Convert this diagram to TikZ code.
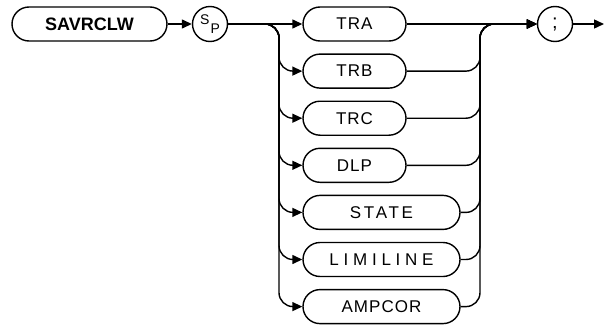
\documentclass[tikz,border=0pt]{standalone}
\usepackage{fontspec}
\setmainfont{Liberation Sans}
\usetikzlibrary{arrows.meta}
\begin{document}
\begin{tikzpicture}[x=1pt,y=-1pt,line width=1.4pt,
  kw/.style={draw, rounded corners=17pt, minimum height=34pt, inner sep=0pt,
    font=\fontsize{17}{17}\selectfont\addfontfeatures{LetterSpace=6}},
  shortbox/.style={kw, minimum width=103pt},
  longbox/.style={kw, minimum width=157pt},
  circ/.style={draw, circle, minimum size=35pt, inner sep=0pt},
  arr/.style={-{Triangle[length=10pt,width=9pt]}},
  conn/.style={rounded corners=14pt}]
\useasboundingbox (0,0) rectangle (605,324);
\node[kw, minimum width=155pt, font=\fontsize{18}{18}\selectfont\bfseries] (savr) at (89.5,24) {SAVRCLW};
\node[circ, font=\fontsize{14}{14}\selectfont] (sp) at (210,24) {\raisebox{4pt}{S}\hspace{1pt}\raisebox{-5pt}{P}};
\node[shortbox] (tra) at (354.5,24) {TRA};
\node[shortbox] (trb) at (354.5,71.1) {TRB};
\node[shortbox] (trc) at (354.5,118.2) {TRC};
\node[shortbox] (dlp) at (354.5,165.3) {DLP};
\node[longbox] (state) at (381.5,212.4) {\addfontfeatures{LetterSpace=16}STATE};
\node[longbox] (limi) at (381.5,259.5) {\addfontfeatures{LetterSpace=28}LIMILINE};
\node[longbox] (amp) at (381.5,306.6) {AMPCOR};
\node[circ, font=\fontsize{20}{20}\selectfont] (semi) at (555,24) {;};
\coordinate (lb) at (279,24);
\coordinate (rb) at (480,24);
\coordinate (end) at (604,24);
\draw[arr] (savr) -- (sp);
\draw[arr] (sp) -- (tra);
\foreach \b in {trb,trc,dlp,state,limi,amp}
  \draw[arr,conn] (sp.east) -| (lb |- \b.west) -- (\b.west);
\draw[arr] (tra) -- (semi);
\foreach \b in {trb,trc,dlp,state,limi,amp}
  \draw[arr,conn] (\b.east) -| (rb |- tra.east) -- (semi.west);
\draw[arr] (semi) -- (end);
\end{tikzpicture}
\end{document}
